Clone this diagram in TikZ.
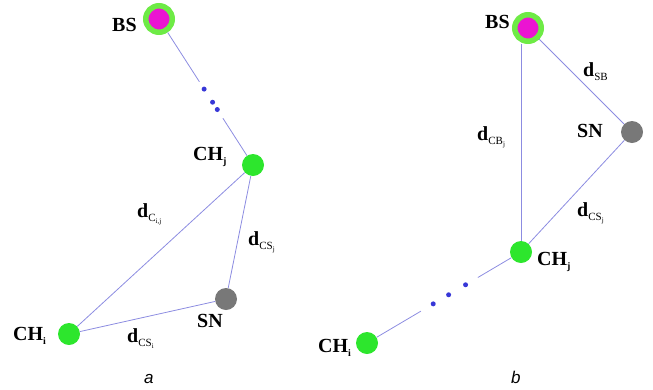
\documentclass[tikz,border=0pt]{standalone}
\usepackage{fontspec}
\setmainfont{Liberation Serif}
\newfontfamily\capfont{Liberation Sans}
\usetikzlibrary{calc}
\definecolor{linkblue}{RGB}{140,140,225}
\definecolor{dotblue}{RGB}{55,55,215}
\definecolor{chgreen}{RGB}{45,230,45}
\definecolor{ringgreen}{RGB}{110,235,70}
\definecolor{bsmagenta}{RGB}{235,20,210}
\definecolor{sngray}{RGB}{120,120,120}
\newcommand{\dlab}[2]{\textbf{d}\raisebox{-0.45ex}{\fontsize{11}{11}\selectfont #1\raisebox{-0.4ex}{\fontsize{7}{7}\selectfont #2}}}
\newcommand{\chlab}[1]{\textbf{CH}\raisebox{-0.5ex}{\fontsize{10}{10}\selectfont\bfseries #1}}
\tikzset{
  bs/.style={circle, fill=bsmagenta, draw=ringgreen, line width=5.5pt, minimum size=26.5pt, inner sep=0pt},
  ch/.style={circle, fill=chgreen, minimum size=22pt, inner sep=0pt},
  sn/.style={circle, fill=sngray, minimum size=22pt, inner sep=0pt},
  lbl/.style={anchor=base west, inner sep=0pt},
  link/.style={draw=linkblue, line width=0.8pt}
}
\begin{document}
\begin{tikzpicture}[x=1pt, y=-1pt, every node/.style={font=\fontsize{20}{24}\selectfont}]
  \useasboundingbox (0,0) rectangle (653,389);
  % a
  \node[bs] (BSa) at (159,19) {};
  \node[ch] (CHja) at (253,165) {};
  \node[sn] (SNa) at (226,299) {};
  \node[ch] (CHia) at (69,334) {};
  \coordinate (gapa1) at ($(BSa)!0.43!(CHja)$);
  \coordinate (gapa2) at ($(BSa)!0.68!(CHja)$);
  \draw[link] (BSa) -- (gapa1);
  \draw[link] (gapa2) -- (CHja);
  \foreach \t in {0.48,0.57,0.62}
    \fill[dotblue] ($(BSa)!\t!(CHja)$) circle (2.5);
  \draw[link] (CHja) -- (CHia);
  \draw[link] (CHja) -- (SNa);
  \draw[link] (SNa) -- (CHia);
  \node[lbl] (BSalab) at (112,31) {\textbf{BS}};
  \node[lbl] (CHjalab) at (193,160) {\chlab{j}};
  \node[lbl] (SNalab) at (197,327) {\textbf{SN}};
  \node[lbl] (CHialab) at (13,340) {\chlab{i}};
  \node[lbl] (dCij) at (137,217) {\dlab{C}{i,j}};
  \node[lbl] (dCSja) at (248,245) {\dlab{CS}{j}};
  \node[lbl] (dCSi) at (127,342) {\dlab{CS}{i}};
  \node[lbl, font=\capfont\itshape\fontsize{17}{20}\selectfont] (capa) at (144,383) {a};
  % b
  \node[bs] (BSb) at (528,28) {};
  \node[sn] (SNb) at (632,132) {};
  \node[ch] (CHjb) at (521,252) {};
  \node[ch] (CHib) at (367,343) {};
  \draw[link] (BSb) -- (SNb);
  \draw[link] (SNb) -- (CHjb);
  \draw[link] (CHjb) -- (CHjb |- BSb.south);
  \coordinate (gapb1) at ($(CHjb)!0.28!(CHib)$);
  \coordinate (gapb2) at ($(CHjb)!0.65!(CHib)$);
  \draw[link] (CHjb) -- (gapb1);
  \draw[link] (gapb2) -- (CHib);
  \foreach \t in {0.36,0.47,0.57}
    \fill[dotblue] ($(CHjb)!\t!(CHib)$) circle (2.5);
  \node[lbl] (BSblab) at (485,28) {\textbf{BS}};
  \node[lbl] (SNblab) at (577,137) {\textbf{SN}};
  \node[lbl] (CHjblab) at (537,265) {\chlab{j}};
  \node[lbl] (CHiblab) at (318,352) {\chlab{i}};
  \node[lbl] (dSB) at (583,76) {\dlab{SB}{}};
  \node[lbl] (dCBj) at (477,140) {\dlab{CB}{j}};
  \node[lbl] (dCSjb) at (577,216) {\dlab{CS}{j}};
  \node[lbl, font=\capfont\itshape\fontsize{17}{20}\selectfont] (capb) at (511,383) {b};
\end{tikzpicture}
\end{document}
